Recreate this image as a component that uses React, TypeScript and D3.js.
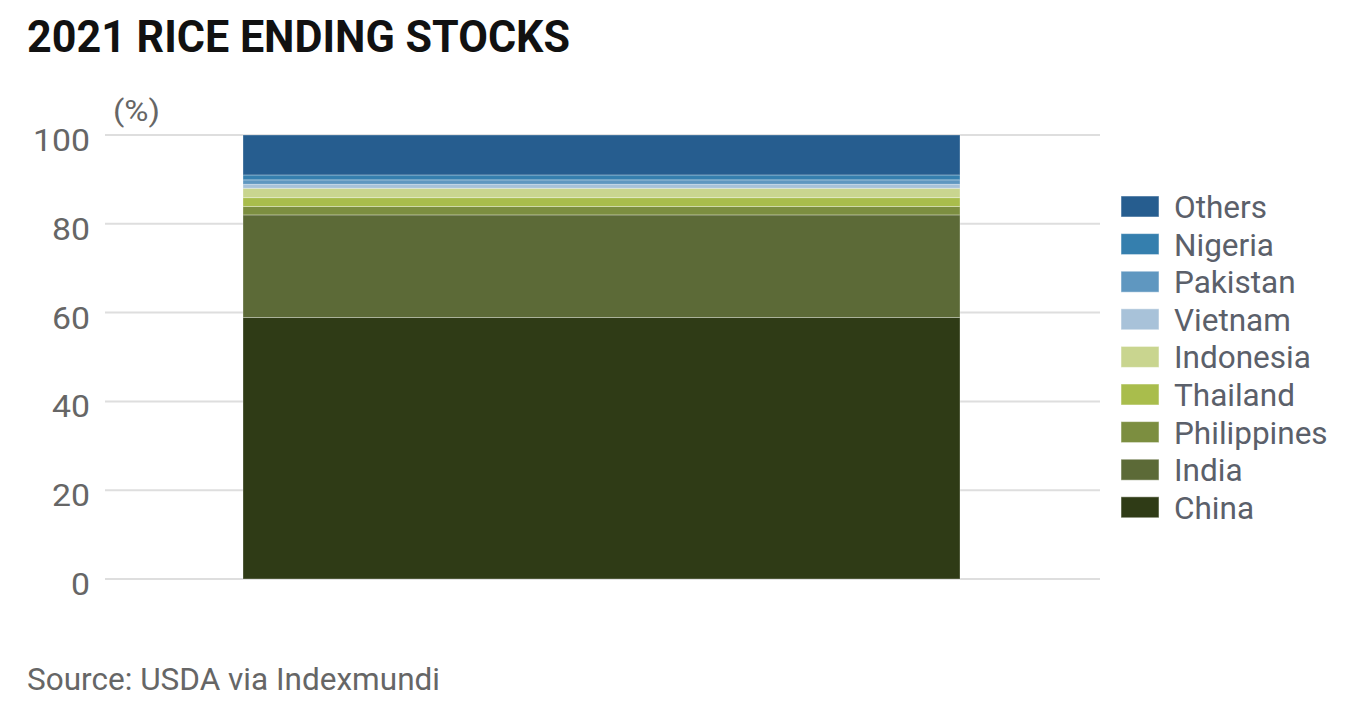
import React from "react";
import * as d3 from "d3";

const categories = ["2021"];
const seriesNames = ["China", "India", "Philippines", "Thailand", "Indonesia", "Vietnam", "Pakistan", "Nigeria", "Others"];
const seriesValues = [58.9, 23.1, 1.9, 2.0, 2.1, 0.9, 1.0, 1.1, 9.0];
const seriesColors = ["#2f3b16", "#5c6a37", "#7c8e40", "#a9bd4c", "#c9d58f", "#a8c2d9", "#5f97c0", "#357fae", "#265d8f"];
const yTicks = [0, 20, 40, 60, 80, 100];

export default function App() {
  const W = 1346, H = 710;
  const y = d3.scaleLinear().domain([0, 100]).range([579, 135]);
  const x = d3.scaleBand().domain(categories).range([243, 960]).padding(0);
  const row: Record<string, number> = {} as any;
  seriesNames.forEach((n, i) => (row[n] = seriesValues[i]));
  const stacked = d3.stack<any>().keys(seriesNames)([row]);
  const legendOrder = [...seriesNames].reverse();
  const font = "Roboto, 'DejaVu Sans', sans-serif";
  return (
    <svg width={W} height={H} style={{ display: "block", position: "absolute", left: 0, top: 0 }}>
      <rect width={W} height={H} fill="#fff" />
      <text x={27} y={52} fontFamily={font} fontWeight={700} fontSize={45} fill="#111" textLength={543} lengthAdjust="spacingAndGlyphs">
        2021 RICE ENDING STOCKS
      </text>
      <text x={113} y={121} fontFamily={font} fontSize={30} fill="#666" textLength={47} lengthAdjust="spacingAndGlyphs">(%)</text>
      {yTicks.map((t) => {
        const label = String(t);
        const len = label.length * 19;
        return (
          <g key={t}>
            <line x1={105} x2={1100} y1={y(t)} y2={y(t)} stroke="#dedede" strokeWidth={2} />
            <text x={90 - len} y={y(t) + 16} fontFamily={font} fontSize={31} fill="#666" textLength={len} lengthAdjust="spacingAndGlyphs">{label}</text>
          </g>
        );
      })}
      {stacked.map((s, i) => (
        <rect
          key={s.key}
          x={x(categories[0])}
          width={x.bandwidth()}
          y={y(s[0][1])}
          height={y(s[0][0]) - y(s[0][1])}
          fill={seriesColors[i]}
          stroke="rgba(255,255,255,0.3)"
          strokeWidth={1}
        />
      ))}
      {legendOrder.map((n, i) => {
        const ci = seriesNames.indexOf(n);
        const top = 196 + i * 37.6;
        return (
          <g key={n}>
            <rect x={1121} y={top} width={38} height={21} fill={seriesColors[ci]} stroke="rgba(255,255,255,0.5)" strokeWidth={1} />
            <text x={1174} y={top + 22} fontFamily={font} fontSize={31.5} fill="#5b606a">{n}</text>
          </g>
        );
      })}
      <text x={27} y={690} fontFamily={font} fontSize={31} fill="#666" textLength={413} lengthAdjust="spacingAndGlyphs">Source: USDA via Indexmundi</text>
    </svg>
  );
}
